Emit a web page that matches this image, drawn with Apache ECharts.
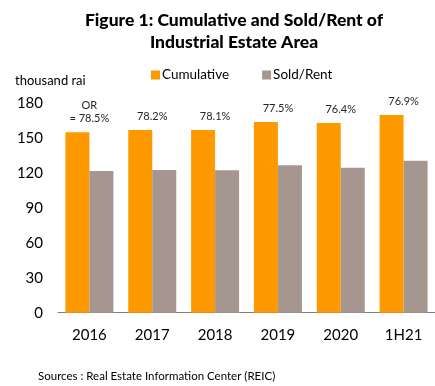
<!DOCTYPE html>
<html><head><meta charset="utf-8">
<script src="https://cdn.jsdelivr.net/npm/echarts@6/dist/echarts.min.js"></script>
<style>html,body{margin:0;padding:0;background:#fff}#c{width:435px;height:386px}</style>
</head><body><div id="c"></div>
<script>
const categories = ['2016','2017','2018','2019','2020','1H21'];
const cumulative = [154.6, 156.5, 156.5, 163.5, 162.6, 169.5];
const soldRent = [121.4, 122.3, 122.2, 126.4, 124.3, 130.2];
const orLabels = ['OR\n= 78.5%', '78.2%', '78.1%', '77.5%', '76.4%', '76.9%'];
const yTicks = [0, 30, 60, 90, 120, 150, 180];
const FONT = 'Lato';
const chart = echarts.init(document.getElementById('c'));
chart.setOption({
  animation: false,
  textStyle: {fontFamily: FONT},
  title: [{
    text: 'Figure 1: Cumulative and Sold/Rent of\nIndustrial Estate Area',
    left: 229, top: 4, textAlign: 'center',
    textStyle: {fontFamily: FONT, fontSize: 17.5, fontWeight: 900, color: '#000', lineHeight: 22}
  }, {
    text: 'thousand rai', left: 10, top: 69,
    textStyle: {fontFamily: FONT, fontSize: 13, fontWeight: 'normal', color: '#000'}
  }, {
    text: 'Sources : Real Estate Information Center (REIC)', left: 33, top: 365,
    textStyle: {fontFamily: FONT, fontSize: 11.5, fontWeight: 'normal', color: '#000'}
  }],
  legend: {
    left: 146, top: 63, itemWidth: 9, itemHeight: 9, itemGap: 33,
    icon: 'rect',
    textStyle: {fontFamily: FONT, fontSize: 13.5, color: '#000', padding: [0,0,0,-3]},
    data: ['Cumulative', 'Sold/Rent']
  },
  grid: {left: 58, right: 0, top: 102.7, bottom: 386 - 312.7, containLabel: false},
  xAxis: {
    type: 'category', data: categories,
    axisLine: {lineStyle: {color: '#7f7f7f', width: 1}},
    axisTick: {show: false},
    axisLabel: {fontFamily: FONT, fontSize: 15, color: '#000', margin: 15}
  },
  yAxis: {
    type: 'value', min: yTicks[0], max: yTicks[yTicks.length-1], interval: 30,
    axisLine: {show: false}, axisTick: {show: false}, splitLine: {show: false},
    axisLabel: {fontFamily: FONT, fontSize: 15, color: '#000', margin: 15}
  },
  series: [{
    name: 'Cumulative', type: 'bar', data: cumulative, barWidth: 24, barGap: '0%',
    itemStyle: {color: '#FF9900'},
    label: {
      show: true, position: 'top', offset: [12, -2],
      formatter: p => orLabels[p.dataIndex],
      fontFamily: FONT, fontSize: 11, color: '#262626', lineHeight: 13
    }
  }, {
    name: 'Sold/Rent', type: 'bar', data: soldRent, barWidth: 24,
    itemStyle: {color: '#A69690'}
  }]
});
</script></body></html>
